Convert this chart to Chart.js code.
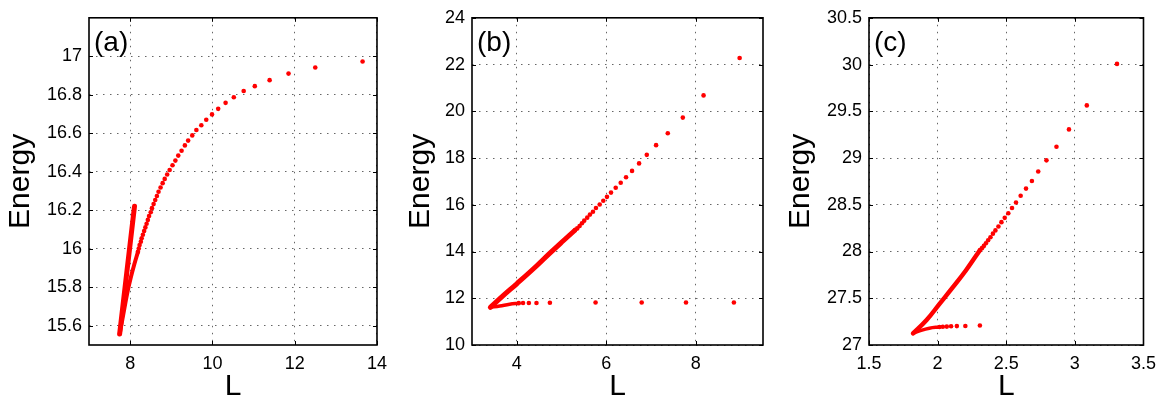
<!DOCTYPE html>
<html>
<head>
<meta charset="utf-8">
<script src="https://cdn.jsdelivr.net/npm/chart.js@4/dist/chart.umd.min.js"></script>
<style>
  html, body { margin: 0; padding: 0; background: #fff; }
  #wrap { position: relative; width: 1164px; height: 402px; overflow: hidden; }
  canvas { position: absolute; top: 0; }
</style>
</head>
<body>
<div id="wrap">
  <canvas id="chartA" width="395" height="402" style="left:0px"></canvas>
  <canvas id="chartB" width="378" height="402" style="left:400px"></canvas>
  <canvas id="chartC" width="384" height="402" style="left:780px"></canvas>
</div>
<script>
// ==== Panel (a) data ====
const aXTicks = [8, 10, 12, 14];
const aYTicks = [15.6, 15.8, 16, 16.2, 16.4, 16.6, 16.8, 17];
const aDotsL = [13.65, 12.50, 11.85, 11.39, 11.03, 10.76, 10.52, 10.32, 10.14, 9.99, 9.85, 9.73, 9.61, 9.51, 9.41, 9.33, 9.25, 9.17, 9.10, 9.03, 8.96, 8.90, 8.84, 8.79, 8.74, 8.69, 8.65, 8.61, 8.57, 8.53, 8.50, 8.46, 8.43, 8.40, 8.37, 8.34, 8.31, 8.28, 8.26, 8.23, 8.21, 8.19];
const aDotsE = [16.973, 16.942, 16.910, 16.876, 16.845, 16.820, 16.787, 16.758, 16.727, 16.698, 16.670, 16.642, 16.617, 16.589, 16.562, 16.537, 16.509, 16.484, 16.458, 16.434, 16.409, 16.386, 16.363, 16.341, 16.318, 16.296, 16.274, 16.253, 16.232, 16.211, 16.190, 16.170, 16.150, 16.130, 16.111, 16.092, 16.073, 16.055, 16.037, 16.019, 16.001, 15.984];
const aBranchL = [8.19, 8.10, 8.01, 7.93, 7.86, 7.80, 7.745];
const aBranchE = [15.984, 15.918, 15.845, 15.77, 15.69, 15.62, 15.557];
const aInnerL = [7.745, 8.106];
const aInnerE = [15.557, 16.221];

// ==== Panel (b) data ====
const bXTicks = [4, 6, 8];
const bYTicks = [10, 12, 14, 16, 18, 20, 22, 24];
const bDotsL = [8.978, 8.172, 7.709, 7.373, 7.112, 6.904, 6.732, 6.575, 6.441, 6.322, 6.210, 6.105, 6.015, 5.933, 5.852, 5.769, 5.702, 5.635, 5.574, 5.507, 5.456, 5.404, 5.351, 5.299];
const bDotsE = [22.28, 20.68, 19.73, 19.06, 18.55, 18.137, 17.77, 17.45, 17.18, 16.94, 16.73, 16.52, 16.34, 16.17, 16.01, 15.86, 15.70, 15.58, 15.45, 15.32, 15.21, 15.09, 14.99, 14.91];
const bUpperL = [5.299, 5.04, 4.74, 4.44, 4.0, 3.69, 3.41];
const bUpperE = [14.91, 14.46, 13.93, 13.38, 12.62, 12.10, 11.61];
const bLowDotsL = [8.85, 7.78, 6.79, 5.76, 4.74, 4.44, 4.27, 4.14, 4.045];
const bLowDotsE = [11.82, 11.82, 11.82, 11.82, 11.81, 11.80, 11.80, 11.80, 11.79];
const bLowL = [4.045, 3.84, 3.62, 3.41];
const bLowE = [11.79, 11.745, 11.67, 11.61];

// ==== Panel (c) data ====
const cXTicks = [1.5, 2, 2.5, 3, 3.5];
const cYTicks = [27, 27.5, 28, 28.5, 29, 29.5, 30, 30.5];
const cDotsL = [3.307, 3.087, 2.957, 2.866, 2.793, 2.733, 2.687, 2.644, 2.605, 2.571, 2.542, 2.515, 2.489, 2.465, 2.443, 2.421, 2.403, 2.385, 2.368, 2.352, 2.337, 2.323, 2.308];
const cDotsE = [30.007, 29.563, 29.306, 29.120, 28.975, 28.856, 28.754, 28.673, 28.596, 28.525, 28.466, 28.409, 28.360, 28.314, 28.268, 28.226, 28.191, 28.152, 28.120, 28.088, 28.060, 28.036, 28.014];
const cUpperL = [2.308, 2.207, 2.11, 2.014, 1.918, 1.821];
const cUpperE = [28.014, 27.80, 27.616, 27.44, 27.264, 27.124];
const cLowDotsL = [2.308, 2.202, 2.14, 2.098, 2.067, 2.038, 2.014];
const cLowDotsE = [27.208, 27.204, 27.202, 27.200, 27.197, 27.195, 27.193];
const cLowL = [2.014, 1.94, 1.88, 1.821];
const cLowE = [27.193, 27.18, 27.157, 27.124];

Chart.defaults.font.family = "'Liberation Sans', Arial, sans-serif";
Chart.defaults.color = "#000";

const RED = "#ff0000";
const pts = (xs, ys) => xs.map((x, i) => ({ x: x, y: ys[i] }));

function dots(xs, ys) {
  return {
    data: pts(xs, ys),
    showLine: false,
    pointRadius: 2.3,
    pointBackgroundColor: RED,
    pointBorderWidth: 0
  };
}

function band(xs, ys, w) {
  return {
    data: pts(xs, ys),
    showLine: true,
    borderColor: RED,
    borderWidth: w,
    pointRadius: 0,
    tension: 0.4,
    borderCapStyle: "round",
    borderJoinStyle: "round"
  };
}

// box, inner tick marks and panel letter, MATLAB style
const framePlugin = {
  id: "frame",
  afterDraw(chart, args, opts) {
    const { ctx, chartArea: a, scales } = chart;
    ctx.save();
    ctx.strokeStyle = "#000";
    ctx.lineWidth = 1;
    ctx.beginPath();
    scales.x.ticks.forEach(t => {
      const px = Math.round(scales.x.getPixelForValue(t.value)) + 0.5;
      ctx.moveTo(px, a.bottom); ctx.lineTo(px, a.bottom - 4);
      ctx.moveTo(px, a.top); ctx.lineTo(px, a.top + 4);
    });
    scales.y.ticks.forEach(t => {
      const py = Math.round(scales.y.getPixelForValue(t.value)) + 0.5;
      ctx.moveTo(a.left, py); ctx.lineTo(a.left + 4, py);
      ctx.moveTo(a.right, py); ctx.lineTo(a.right - 4, py);
    });
    ctx.stroke();
    ctx.lineWidth = 1.6;
    ctx.strokeRect(a.left, a.top, a.right - a.left, a.bottom - a.top);
    ctx.fillStyle = "#000";
    ctx.font = "28px 'Liberation Sans', Arial, sans-serif";
    ctx.textBaseline = "alphabetic";
    ctx.fillText(opts.label, a.left + 5, a.top + 33);
    ctx.restore();
  }
};

function makePanel(id, label, yWidth, padRight, xr, yr, xTicks, yTicks, datasets) {
  const grid = { drawTicks: false, color: "rgba(0,0,0,0.6)", lineWidth: 1 };
  const border = { display: false, dash: [1.5, 5.5] };
  return new Chart(document.getElementById(id), {
    type: "scatter",
    data: { datasets: datasets },
    options: {
      responsive: false,
      animation: false,
      layout: { padding: { top: 14, right: padRight, left: 0, bottom: 0 } },
      plugins: { legend: { display: false }, tooltip: { enabled: false }, frame: { label: label } },
      scales: {
        x: {
          type: "linear", min: xr[0], max: xr[1],
          afterBuildTicks: s => { s.ticks = xTicks.map(v => ({ value: v })); },
          afterFit: s => { s.height = 57; },
          grid: grid, border: border,
          ticks: { callback: v => String(v), font: { size: 18 }, padding: 8, maxRotation: 0, autoSkip: false },
          title: { display: true, text: "L", font: { size: 30, lineHeight: 1 }, padding: { top: 0, bottom: 0 } }
        },
        y: {
          type: "linear", min: yr[0], max: yr[1],
          afterBuildTicks: s => { s.ticks = yTicks.map(v => ({ value: v })); },
          afterFit: s => { s.width = yWidth; },
          grid: grid, border: border,
          ticks: { callback: v => String(v), font: { size: 18 }, padding: 7, autoSkip: false },
          title: { display: true, text: "Energy", font: { size: 30, lineHeight: 1 }, padding: { top: 6, bottom: 0 } }
        }
      }
    },
    plugins: [framePlugin]
  });
}

makePanel("chartA", "(a)", 89, 15, [7, 14], [15.5, 17.2], aXTicks, aYTicks, [
  band(aInnerL, aInnerE, 5),
  band(aBranchL, aBranchE, 4),
  dots(aDotsL, aDotsE)
]);

makePanel("chartB", "(b)", 72, 15, [3, 9.5], [10, 24], bXTicks, bYTicks, [
  band(bUpperL, bUpperE, 5),
  band(bLowL, bLowE, 3.5),
  dots(bDotsL, bDotsE),
  dots(bLowDotsL, bLowDotsE)
]);

makePanel("chartC", "(c)", 89, 19, [1.5, 3.5], [27, 30.5], cXTicks, cYTicks, [
  band(cUpperL, cUpperE, 4.5),
  band(cLowL, cLowE, 3.5),
  dots(cDotsL, cDotsE),
  dots(cLowDotsL, cLowDotsE)
]);
</script>
</body>
</html>
